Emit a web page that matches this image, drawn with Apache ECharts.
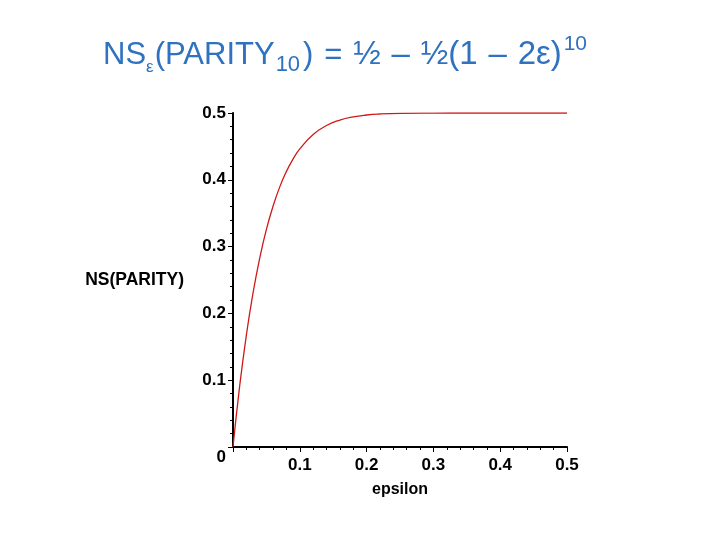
<!DOCTYPE html>
<html>
<head>
<meta charset="utf-8">
<script src="https://cdn.jsdelivr.net/npm/echarts@6/dist/echarts.min.js"></script>
<style>
html,body{margin:0;padding:0;background:#fff;}
#chart{width:720px;height:540px;}
</style>
</head>
<body>
<div id="chart"></div>
<script>
// epsilon values
var epsilonValues = [0, 0.01, 0.02, 0.03, 0.04, 0.05, 0.06, 0.07, 0.08, 0.09, 0.10, 0.12, 0.14, 0.16, 0.18, 0.20, 0.22, 0.25, 0.30, 0.35, 0.40, 0.45, 0.50];
// NS(PARITY) values
var nsValues = [0, 0.0915, 0.1676, 0.2307, 0.2828, 0.3257, 0.3607, 0.3894, 0.4126, 0.4313, 0.4463, 0.4678, 0.4813, 0.4894, 0.4942, 0.4970, 0.4985, 0.4995, 0.4999, 0.5, 0.5, 0.5, 0.5];
var xTicks = [0, 0.1, 0.2, 0.3, 0.4, 0.5];
var yTicks = [0, 0.1, 0.2, 0.3, 0.4, 0.5];

var seriesData = epsilonValues.map(function (e, i) { return [e, nsValues[i]]; });

var chart = echarts.init(document.getElementById('chart'));
var labelFont = {
  fontFamily: '"Liberation Sans", Arial, sans-serif',
  fontWeight: 'bold',
  fontSize: 17,
  color: '#000'
};
var titleFamily = '"Liberation Sans", Arial, sans-serif';
var titleColor = '#2E72C0';
function ts(extra) {
  return Object.assign({ color: titleColor, fontFamily: titleFamily, fontWeight: 'normal' }, extra);
}
chart.setOption({
  backgroundColor: '#ffffff',
  animation: false,
  title: {
    text: 'NS{sub|ε}(PARITY{sub10|10}){sp| }={sp| }{big|½}{sp| }{big|–}{sp| }{big|½(1}{sp| }{big|–}{sp| }{big|2ε)}{sup|10}',
    left: 103,
    top: 34,
    padding: 0,
    textStyle: {
      fontFamily: titleFamily,
      fontSize: 31,
      fontWeight: 'normal',
      color: titleColor,
      lineHeight: 42,
      rich: {
        sub: ts({ fontSize: 17, verticalAlign: 'bottom', lineHeight: 24, padding: [0, 1, 0, 0] }),
        sub10: ts({ fontSize: 22, verticalAlign: 'bottom', lineHeight: 28, padding: [0, 3, 0, 1] }),
        sup: ts({ fontSize: 21, verticalAlign: 'top', lineHeight: 24, padding: [0, 0, 0, 2] }),
        big: ts({ fontSize: 33, lineHeight: 42 }),
        sp: ts({ fontSize: 39, lineHeight: 42 })
      }
    }
  },
  grid: { left: 233, right: 153, top: 113, bottom: 93, containLabel: false },
  xAxis: {
    type: 'value',
    min: 0, max: 0.5, interval: 0.1,
    name: 'epsilon',
    nameLocation: 'middle',
    nameGap: 35,
    nameTextStyle: Object.assign({}, labelFont, { fontSize: 16 }),
    axisLine: { show: true, onZero: false, lineStyle: { color: '#000', width: 2 } },
    axisTick: { show: true, length: 5, lineStyle: { color: '#000', width: 1 } },
    minorTick: { show: true, splitNumber: 5, length: 3, lineStyle: { color: '#000', width: 1 } },
    splitLine: { show: false },
    axisLabel: Object.assign({ margin: 10, showMinLabel: false, formatter: function (v) { return xTicks.indexOf(v) >= 0 ? String(v) : ''; } }, labelFont)
  },
  yAxis: {
    type: 'value',
    min: 0, max: 0.5, interval: 0.1,
    name: 'NS(PARITY)',
    nameLocation: 'middle',
    nameRotate: 0,
    nameGap: 49,
    nameTextStyle: Object.assign({}, labelFont, { fontSize: 17.5 }),
    axisLine: { show: true, onZero: false, lineStyle: { color: '#000', width: 2 } },
    axisTick: { show: true, length: 5, lineStyle: { color: '#000', width: 1 } },
    minorTick: { show: true, splitNumber: 5, length: 3, lineStyle: { color: '#000', width: 1 } },
    splitLine: { show: false },
    axisLabel: Object.assign({
      margin: 7,
      formatter: function (v) { return v === 0 ? '{z|0}' : (yTicks.indexOf(v) >= 0 ? String(v) : ''); },
      rich: { z: Object.assign({ padding: [20, 0, 0, 0] }, labelFont) }
    }, labelFont)
  },
  series: [{
    type: 'line',
    data: seriesData,
    smooth: true,
    showSymbol: false,
    lineStyle: { color: '#D01818', width: 1.3 },
    itemStyle: { color: '#D01818' }
  }]
});
</script>
</body>
</html>
